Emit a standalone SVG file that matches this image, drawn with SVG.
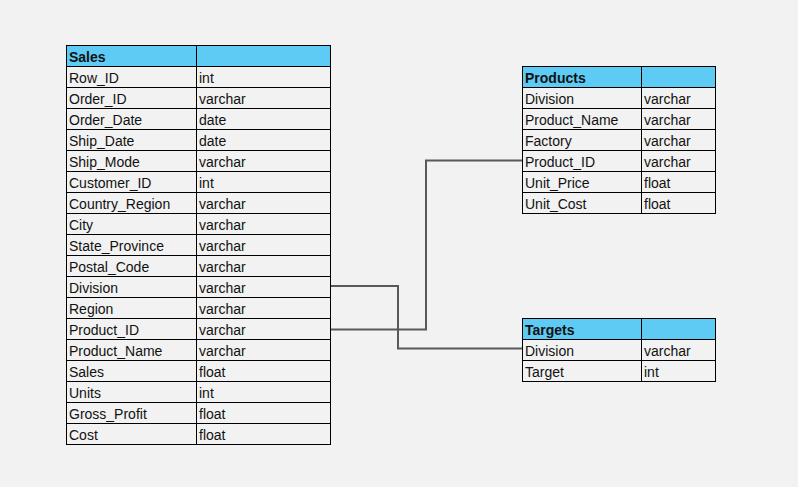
<svg xmlns="http://www.w3.org/2000/svg" width="798" height="487" viewBox="0 0 798 487">
<style>
.bg{fill:#f2f2f2}
.hd{fill:#5ecbf4}
.grid{stroke:#000;stroke-width:1;fill:none}
text{font-family:"Liberation Sans",Arial,sans-serif;font-size:14px;fill:#111}
.h{font-weight:bold}
.conn{stroke:#595959;stroke-width:2;fill:none}
</style>
<rect class="bg" x="0" y="0" width="798" height="487"/>
<g id="connectors">
<path class="conn" d="M331 286 H398 V348.5 H522"/>
<path class="conn" d="M331 329.5 H426 V160.5 H522"/>
</g>
<g id="sales">
<rect class="hd" x="66.5" y="45.5" width="264" height="21"/>
<rect class="grid" x="66.5" y="45.5" width="264" height="399"/>
<path class="grid" d="M196.5 45.5V444.5 M66.5 66.5H330.5 M66.5 87.5H330.5 M66.5 108.5H330.5 M66.5 129.5H330.5 M66.5 150.5H330.5 M66.5 171.5H330.5 M66.5 192.5H330.5 M66.5 213.5H330.5 M66.5 234.5H330.5 M66.5 255.5H330.5 M66.5 276.5H330.5 M66.5 297.5H330.5 M66.5 318.5H330.5 M66.5 339.5H330.5 M66.5 360.5H330.5 M66.5 381.5H330.5 M66.5 402.5H330.5 M66.5 423.5H330.5"/>
<text class="h" x="69" y="61.5">Sales</text>
<text x="69" y="82.5">Row_ID</text><text x="199" y="82.5">int</text>
<text x="69" y="103.5">Order_ID</text><text x="199" y="103.5">varchar</text>
<text x="69" y="124.5">Order_Date</text><text x="199" y="124.5">date</text>
<text x="69" y="145.5">Ship_Date</text><text x="199" y="145.5">date</text>
<text x="69" y="166.5">Ship_Mode</text><text x="199" y="166.5">varchar</text>
<text x="69" y="187.5">Customer_ID</text><text x="199" y="187.5">int</text>
<text x="69" y="208.5">Country_Region</text><text x="199" y="208.5">varchar</text>
<text x="69" y="229.5">City</text><text x="199" y="229.5">varchar</text>
<text x="69" y="250.5">State_Province</text><text x="199" y="250.5">varchar</text>
<text x="69" y="271.5">Postal_Code</text><text x="199" y="271.5">varchar</text>
<text x="69" y="292.5">Division</text><text x="199" y="292.5">varchar</text>
<text x="69" y="313.5">Region</text><text x="199" y="313.5">varchar</text>
<text x="69" y="334.5">Product_ID</text><text x="199" y="334.5">varchar</text>
<text x="69" y="355.5">Product_Name</text><text x="199" y="355.5">varchar</text>
<text x="69" y="376.5">Sales</text><text x="199" y="376.5">float</text>
<text x="69" y="397.5">Units</text><text x="199" y="397.5">int</text>
<text x="69" y="418.5">Gross_Profit</text><text x="199" y="418.5">float</text>
<text x="69" y="439.5">Cost</text><text x="199" y="439.5">float</text>
</g>
<g id="products">
<rect class="hd" x="522.5" y="66.5" width="193" height="21"/>
<rect class="grid" x="522.5" y="66.5" width="193" height="147"/>
<path class="grid" d="M641.5 66.5V213.5 M522.5 87.5H715.5 M522.5 108.5H715.5 M522.5 129.5H715.5 M522.5 150.5H715.5 M522.5 171.5H715.5 M522.5 192.5H715.5"/>
<text class="h" x="525" y="82.5">Products</text>
<text x="525" y="103.5">Division</text><text x="644" y="103.5">varchar</text>
<text x="525" y="124.5">Product_Name</text><text x="644" y="124.5">varchar</text>
<text x="525" y="145.5">Factory</text><text x="644" y="145.5">varchar</text>
<text x="525" y="166.5">Product_ID</text><text x="644" y="166.5">varchar</text>
<text x="525" y="187.5">Unit_Price</text><text x="644" y="187.5">float</text>
<text x="525" y="208.5">Unit_Cost</text><text x="644" y="208.5">float</text>
</g>
<g id="targets">
<rect class="hd" x="522.5" y="318.5" width="193" height="21"/>
<rect class="grid" x="522.5" y="318.5" width="193" height="63"/>
<path class="grid" d="M641.5 318.5V381.5 M522.5 339.5H715.5 M522.5 360.5H715.5"/>
<text class="h" x="525" y="334.5">Targets</text>
<text x="525" y="355.5">Division</text><text x="644" y="355.5">varchar</text>
<text x="525" y="376.5">Target</text><text x="644" y="376.5">int</text>
</g>
</svg>
